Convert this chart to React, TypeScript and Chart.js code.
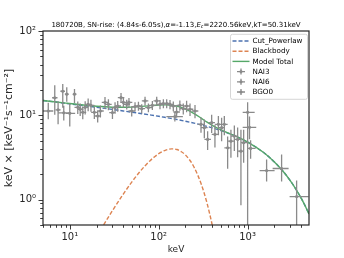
import React, { useEffect, useRef } from 'react';
import { Chart, registerables } from 'chart.js';
Chart.register(...registerables);

const FONT = '"DejaVu Sans", "Liberation Sans", sans-serif';
const GRAY = '#8a8a8a';
const BLUE = '#4c72b0';
const ORANGE = '#dd8452';
const GREEN = '#55a868';
const INK = '#262626';

// ---- NAI3 data (energy keV, energy minus/plus, flux, flux minus/plus)
const nai3E = [5.73, 7.39, 8.56, 10.0, 12.3, 14.0, 16.1, 18.9, 22.1, 27.2, 32.3, 37.7, 43.7, 49.7, 59.2, 70.2, 84.9, 103.4, 123, 146, 159, 189, 225, 299, 355, 429, 510, 596, 709, 841];
const nai3EMinus = [0.73, 0.45, 1.2, 1.0, 1.0, 1.1, 1.3, 1.5, 1.8, 2.2, 2.6, 3.0, 3.5, 4.0, 4.7, 5.6, 6.8, 8.3, 9.8, 11.7, 12.7, 15.1, 18, 24, 28, 34, 41, 48, 57, 67];
const nai3EPlus = [0.8, 0.5, 1.8, 1.5, 1.1, 1.3, 1.4, 1.7, 2.0, 2.4, 2.9, 3.4, 3.9, 4.5, 5.3, 6.3, 7.6, 9.3, 11.1, 13.1, 14.3, 17.0, 20, 27, 32, 39, 46, 54, 64, 76];
const nai3V = [11.25, 11.63, 10.7, 10.56, 12.45, 10.86, 13.5, 10.86, 11.25, 13.5, 12.35, 16.2, 13.5, 11.25, 12.9, 14.8, 13.15, 13.5, 13.8, 12.9, 10.95, 12.0, 11.8, 7.81, 5.18, 5.94, 7.14, 4.12, 5.67, 3.76];
const nai3VMinus = [2.3, 3.8, 2.0, 3.2, 2.1, 1.9, 2.3, 1.8, 1.8, 2.0, 1.9, 2.2, 1.8, 1.6, 1.6, 1.8, 1.6, 1.7, 1.7, 1.7, 1.6, 1.8, 2.0, 1.6, 1.3, 1.8, 2.2, 1.8, 1.9, 2.9];
const nai3VPlus = [2.8, 3.0, 2.3, 3.2, 2.1, 1.9, 2.3, 1.8, 1.8, 2.0, 1.9, 2.2, 1.8, 1.6, 1.6, 1.8, 1.6, 1.7, 1.7, 1.7, 1.6, 1.8, 2.0, 1.6, 1.3, 1.8, 2.2, 1.5, 1.9, 3.0];

// ---- NAI6 data
const nai6E = [6.78, 8.34, 9.25, 11.3, 13.1, 14.9, 17.3, 20.6, 24.9, 30.2, 34.6, 40.1, 46.3, 54.2, 64.4, 76.6, 95, 112.9, 134, 152, 173, 206, 256, 326, 394, 469, 547, 649, 772, 902];
const nai6EMinus = [0.45, 0.5, 0.45, 0.5, 1.0, 1.2, 1.4, 1.6, 2.0, 2.4, 2.8, 3.2, 3.7, 4.3, 5.2, 6.1, 7.6, 9.0, 10.7, 30, 13.8, 16.5, 20, 26, 32, 38, 44, 52, 62, 72];
const nai6EPlus = [0.5, 0.5, 0.5, 0.6, 1.2, 1.3, 1.6, 1.9, 2.2, 2.7, 3.1, 3.6, 4.2, 4.9, 5.8, 6.9, 8.6, 10.2, 12.1, 35, 15.6, 18.5, 23, 29, 35, 42, 49, 58, 69, 81];
const nai6V = [16.15, 19.3, 17.8, 17.8, 11.8, 12.45, 13.15, 9.81, 14.2, 10.77, 12.9, 14.2, 14.2, 12.7, 12.0, 12.35, 14.8, 13.8, 13.5, 9.65, 13.15, 12.9, 11.25, 7.14, 8.18, 7.81, 7.81, 4.94, 5.18, 4.73];
const nai6VMinus = [6.0, 7.0, 3.3, 3.8, 2.0, 2.2, 2.1, 1.6, 2.3, 1.7, 1.9, 1.9, 1.8, 1.6, 1.5, 1.5, 1.8, 1.7, 1.7, 1.2, 1.8, 2.0, 2.0, 1.8, 2.0, 2.0, 2.0, 1.8, 2.0, 2.0];
const nai6VPlus = [6.6, 4.2, 3.7, 2.7, 2.0, 2.2, 2.1, 1.6, 2.3, 1.7, 1.9, 1.9, 1.8, 1.6, 1.5, 1.5, 1.8, 1.7, 1.7, 1.2, 1.8, 2.0, 2.0, 1.8, 2.0, 2.0, 2.0, 1.8, 2.0, 2.0];

// ---- BGO0 data
const bgoE = [1000, 1050, 1080, 1635, 2410, 3556];
const bgoEMinus = [120, 170, 80, 270, 500, 590];
const bgoEPlus = [200, 200, 150, 375, 480, 1284];
const bgoV = [10.86, 7.2, 4.05, 2.21, 2.34, 1.086];
const bgoVMinus = [10.6, 2.0, 1.0, 0.57, 0.7, 0.7];
const bgoVPlus = [3.4, 2.5, 1.0, 0.78, 1.1, 0.6];

// ---- model curves
const cplE = [5, 7, 10, 15, 20, 30, 40, 50, 60, 80, 100, 120, 140, 160, 200, 250, 300, 350, 400, 500, 700, 1000, 1500, 2000, 2500, 3000, 3500, 4000, 4500, 4900];
const cplV = [15.0, 14.36, 13.68, 12.94, 12.44, 11.75, 11.27, 10.89, 10.59, 10.11, 9.74, 9.42, 9.15, 8.92, 8.5, 8.08, 7.71, 7.39, 7.1, 6.59, 5.77, 4.81, 3.64, 2.8, 2.17, 1.695, 1.326, 1.041, 0.818, 0.676];
const totV = [15.0, 14.36, 13.78, 13.16, 12.8, 12.48, 12.44, 12.51, 12.67, 13.01, 13.25, 13.29, 13.15, 12.85, 11.88, 10.5, 9.25, 8.29, 7.6, 6.72, 5.78, 4.81, 3.64, 2.8, 2.17, 1.695, 1.326, 1.041, 0.818, 0.676];
const bbE = [15, 20, 25, 30, 40, 50, 60, 70, 80, 90, 100, 120, 140, 160, 180, 200, 225, 250, 275, 300, 325, 350, 375, 400, 425];
const bbV = [0.215, 0.362, 0.537, 0.732, 1.165, 1.624, 2.08, 2.51, 2.9, 3.23, 3.51, 3.87, 4.0, 3.93, 3.7, 3.38, 2.91, 2.42, 1.95, 1.54, 1.19, 0.904, 0.674, 0.498, 0.363];

const X_MIN = 5;
const X_MAX = 4900;
const Y_MIN = 0.5;
const Y_MAX = 100;

const TITLE_PARTS = [
  { t: '180720B, SN-rise: (4.84s-6.05s),', italic: false, sub: false },
  { t: 'α', italic: true, sub: false },
  { t: '=-1.13,', italic: false, sub: false },
  { t: 'E', italic: true, sub: false },
  { t: 'c', italic: true, sub: true },
  { t: '=2220.56keV,kT=50.31keV', italic: false, sub: false },
];

const SUP: Record<string, string> = { '-': '⁻', '0': '⁰', '1': '¹', '2': '²', '3': '³', '4': '⁴', '5': '⁵', '6': '⁶', '7': '⁷', '8': '⁸', '9': '⁹' };
function powLabel(v: number): string {
  const l = Math.log10(v);
  const r = Math.round(l);
  if (Math.abs(l - r) > 1e-6) return '';
  return '10' + String(r).split('').map((c) => SUP[c]).join('');
}

const pts = (xs: number[], ys: number[]) => xs.map((x, i) => ({ x, y: ys[i] }));

const detectors = [
  { E: nai3E, eM: nai3EMinus, eP: nai3EPlus, V: nai3V, vM: nai3VMinus, vP: nai3VPlus },
  { E: nai6E, eM: nai6EMinus, eP: nai6EPlus, V: nai6V, vM: nai6VMinus, vP: nai6VPlus },
  { E: bgoE, eM: bgoEMinus, eP: bgoEPlus, V: bgoV, vM: bgoVMinus, vP: bgoVPlus },
];

const decorPlugin = {
  id: 'decor',
  afterDatasetsDraw(chart: any) {
    const { ctx, chartArea: a, scales } = chart;
    const x = scales.x, y = scales.y;
    ctx.save();
    ctx.beginPath();
    ctx.rect(a.left, a.top, a.right - a.left, a.bottom - a.top);
    ctx.clip();
    ctx.strokeStyle = GRAY;
    ctx.lineWidth = 1.3;
    ctx.beginPath();
    for (const d of detectors) {
      for (let i = 0; i < d.E.length; i++) {
        const px = x.getPixelForValue(d.E[i]);
        const py = y.getPixelForValue(d.V[i]);
        const x0 = x.getPixelForValue(Math.max(d.E[i] - d.eM[i], 1e-3));
        const x1 = x.getPixelForValue(d.E[i] + d.eP[i]);
        const y0 = y.getPixelForValue(Math.max(d.V[i] - d.vM[i], 1e-3));
        const y1 = y.getPixelForValue(d.V[i] + d.vP[i]);
        ctx.moveTo(x0, py); ctx.lineTo(x1, py);
        ctx.moveTo(px, y0); ctx.lineTo(px, y1);
      }
    }
    ctx.stroke();
    ctx.restore();
  },
  afterDraw(chart: any) {
    const { ctx, chartArea: a, scales } = chart;
    const x = scales.x, y = scales.y;
    ctx.save();
    // frame
    ctx.strokeStyle = INK;
    ctx.lineWidth = 1.2;
    ctx.strokeRect(a.left, a.top, a.right - a.left, a.bottom - a.top);
    // ticks
    ctx.lineWidth = 0.9;
    ctx.beginPath();
    for (let e = Math.floor(Math.log10(X_MIN)); e <= Math.ceil(Math.log10(X_MAX)); e++) {
      for (let m = 1; m <= 9; m++) {
        const v = m * Math.pow(10, e);
        if (v < X_MIN - 1e-9 || v > X_MAX + 1e-9) continue;
        const p = Math.round(x.getPixelForValue(v)) + 0.5;
        const len = m === 1 ? 4.5 : 2.8;
        ctx.moveTo(p, a.bottom); ctx.lineTo(p, a.bottom + len);
      }
    }
    for (let e = Math.floor(Math.log10(Y_MIN)); e <= Math.ceil(Math.log10(Y_MAX)); e++) {
      for (let m = 1; m <= 9; m++) {
        const v = m * Math.pow(10, e);
        if (v < Y_MIN - 1e-9 || v > Y_MAX + 1e-9) continue;
        const p = Math.round(y.getPixelForValue(v)) + 0.5;
        const len = m === 1 ? 4.5 : 2.8;
        ctx.moveTo(a.left, p); ctx.lineTo(a.left - len, p);
      }
    }
    ctx.stroke();

    // title
    const fs = 7;
    const fontFor = (p: any) => `${p.italic ? 'italic ' : ''}${p.sub ? fs * 0.7 : fs}px ${FONT}`;
    let total = 0;
    for (const p of TITLE_PARTS) { ctx.font = fontFor(p); total += ctx.measureText(p.t).width; }
    let tx = (a.left + a.right) / 2 - total / 2;
    const ty = 26.5;
    ctx.fillStyle = '#000';
    ctx.textBaseline = 'alphabetic';
    ctx.textAlign = 'left';
    for (const p of TITLE_PARTS) {
      ctx.font = fontFor(p);
      ctx.fillText(p.t, tx, p.sub ? ty + 1.5 : ty);
      tx += ctx.measureText(p.t).width;
    }

    // legend
    const lx = 230.5, ly = 34.3, lw = 77, lh = 65;
    ctx.beginPath();
    ctx.roundRect(lx, ly, lw, lh, 2);
    ctx.fillStyle = 'rgba(255,255,255,0.85)';
    ctx.fill();
    ctx.strokeStyle = '#cccccc';
    ctx.lineWidth = 0.8;
    ctx.stroke();
    const ds = chart.data.datasets;
    const order = [0, 1, 2, 3, 4, 5];
    ctx.font = `7.2px ${FONT}`;
    ctx.textBaseline = 'middle';
    order.forEach((di, k) => {
      const d = ds[di];
      const cy = 41 + k * 10.2;
      if (d.showLine) {
        ctx.save();
        ctx.strokeStyle = d.borderColor;
        ctx.lineWidth = 1.4;
        ctx.setLineDash(d.borderDash || []);
        ctx.beginPath();
        ctx.moveTo(232.5, cy); ctx.lineTo(249.5, cy);
        ctx.stroke();
        ctx.restore();
      } else {
        ctx.strokeStyle = GRAY;
        ctx.lineWidth = 1.3;
        ctx.beginPath();
        ctx.moveTo(237, cy); ctx.lineTo(245, cy);
        ctx.moveTo(241, cy - 3); ctx.lineTo(241, cy + 3);
        ctx.stroke();
        ctx.fillStyle = GRAY;
        ctx.beginPath();
        ctx.arc(241, cy, 1.5, 0, Math.PI * 2);
        ctx.fill();
      }
      ctx.fillStyle = '#000';
      ctx.fillText(d.label, 252.5, cy + 0.3);
    });
    ctx.restore();
  },
};

export default function App() {
  const ref = useRef<HTMLCanvasElement>(null);
  useEffect(() => {
    document.body.style.margin = '0';
    const lineDs = (label: string, xs: number[], ys: number[], color: string, dash: number[], order: number) => ({
      label, data: pts(xs, ys), showLine: true, borderColor: color, backgroundColor: color,
      borderWidth: 1.4, borderDash: dash, pointRadius: 0, cubicInterpolationMode: 'monotone', order,
    });
    const ptDs = (label: string, xs: number[], ys: number[]) => ({
      label, data: pts(xs, ys), showLine: false, pointRadius: 1.6, pointBackgroundColor: GRAY,
      pointBorderWidth: 0, borderColor: GRAY, backgroundColor: GRAY, order: 0,
    });
    const chart = new Chart(ref.current as HTMLCanvasElement, {
      type: 'scatter',
      data: {
        datasets: [
          lineDs('Cut_Powerlaw', cplE, cplV, BLUE, [4, 2], 3),
          lineDs('Blackbody', bbE, bbV, ORANGE, [4, 2], 2),
          lineDs('Model Total', cplE, totV, GREEN, [], 1),
          ptDs('NAI3', nai3E, nai3V),
          ptDs('NAI6', nai6E, nai6V),
          ptDs('BGO0', bgoE, bgoV),
        ] as any,
      },
      options: {
        animation: false,
        responsive: false,
        maintainAspectRatio: false,
        layout: { padding: { top: 31, right: 35, left: 0, bottom: 0 } },
        plugins: { legend: { display: false }, title: { display: false }, tooltip: { enabled: false } },
        scales: {
          x: {
            type: 'logarithmic', min: X_MIN, max: X_MAX, position: 'bottom',
            grid: { display: false, drawTicks: false }, border: { display: false },
            ticks: { autoSkip: false, maxRotation: 0, minRotation: 0, padding: 6, color: INK,
              font: { family: FONT, size: 10 }, callback: (v: any) => powLabel(Number(v)) },
            title: { display: true, text: 'keV', color: INK, font: { family: FONT, size: 9 }, padding: { top: 0, bottom: 3 } },
            afterFit: (s: any) => { s.height = 33; },
          },
          y: {
            type: 'logarithmic', min: Y_MIN, max: Y_MAX, position: 'left',
            grid: { display: false, drawTicks: false }, border: { display: false },
            ticks: { autoSkip: false, padding: 7, color: INK,
              font: { family: FONT, size: 10 }, callback: (v: any) => powLabel(Number(v)) },
            title: { display: true, text: 'keV × [keV⁻¹s⁻¹cm⁻²]', color: INK, font: { family: FONT, size: 11 }, padding: { top: 2.5, bottom: 0 } },
            afterFit: (s: any) => { s.width = 43; },
          },
        },
      } as any,
      plugins: [decorPlugin as any],
    });
    return () => chart.destroy();
  }, []);
  return (
    <div style={{ position: 'fixed', left: 0, top: 0, width: 344, height: 258, background: '#fff' }}>
      <canvas ref={ref} width={344} height={258} style={{ width: '344px', height: '258px', display: 'block' }} />
    </div>
  );
}
